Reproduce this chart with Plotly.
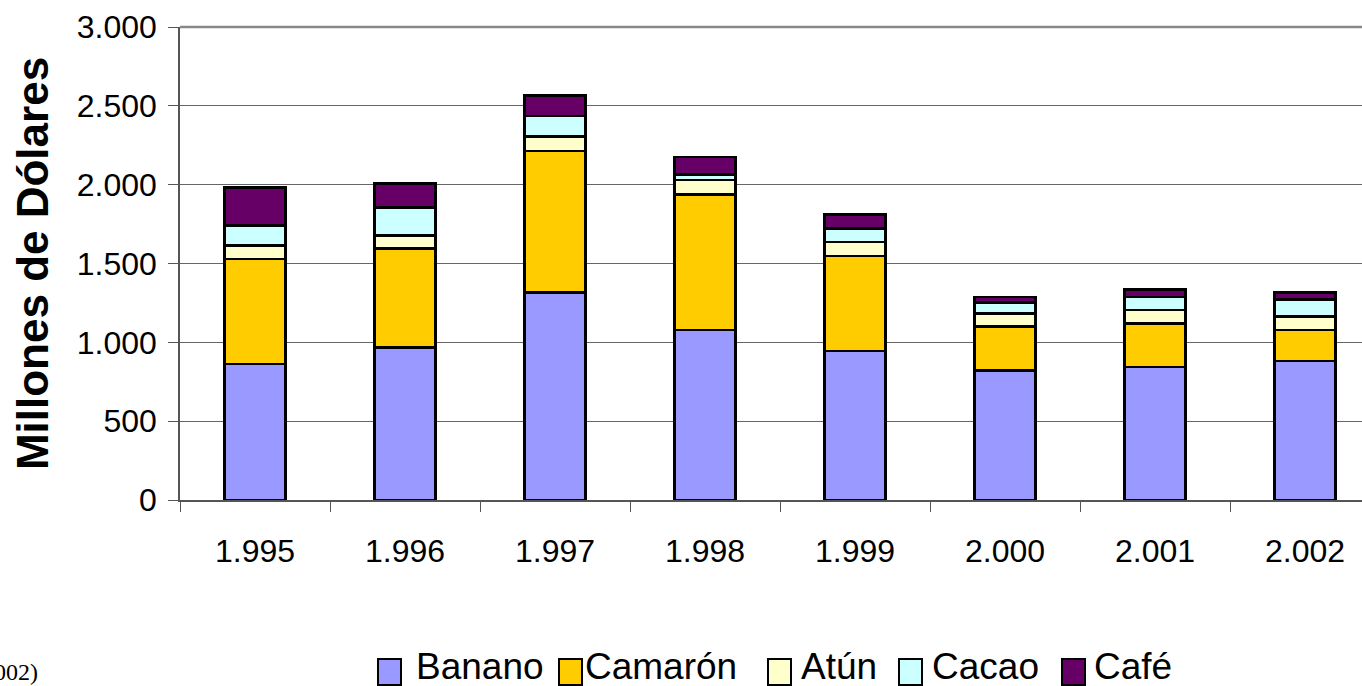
import plotly.graph_objects as go

# Exportaciones por producto, millones de dólares
years = ["1.995", "1.996", "1.997", "1.998", "1.999", "2.000", "2.001", "2.002"]
banano = [863, 968, 1317, 1078, 945, 820, 842, 882]
camaron = [664, 626, 898, 861, 604, 279, 279, 196]
atun = [86, 85, 89, 91, 87, 85, 84, 85]
cacao = [127, 175, 130, 36, 85, 70, 84, 110]
cafe = [243, 152, 133, 111, 89, 35, 47, 42]

names = ["Banano", "Camarón", "Atún", "Cacao", "Café"]
values = [banano, camaron, atun, cacao, cafe]
colors = ["#9999FF", "#FFCC00", "#FFFFCC", "#CCFFFF", "#660066"]

FONT = "Liberation Sans, Arial, sans-serif"

# plot area in pixels
L, T, W, H = 180, 27, 1182, 473


def px(x):
    return (x - L) / W


def py(y):
    return (T + H - y) / H


fig = go.Figure()
for name, vals, color in zip(names, values, colors):
    fig.add_trace(go.Bar(
        x=years, y=vals, name=name,
        marker=dict(color=color, line=dict(color="black", width=2.5)),
    ))

# legend row below the chart: swatch + label per series
swatch_left = [378, 559, 768, 899, 1062]
label_left = [414, 583, 799, 930, 1092]
for name, color, x0, xt in zip(names, colors, swatch_left, label_left):
    fig.add_shape(
        type="rect", xref="paper", yref="paper",
        x0=px(x0), x1=px(x0 + 23), y0=py(685), y1=py(659),
        fillcolor=color, line=dict(color="black", width=2),
    )
    fig.add_annotation(
        text=name, xref="paper", yref="paper",
        x=px(xt), y=py(666), xanchor="left", yanchor="middle",
        showarrow=False, font=dict(family=FONT, size=37, color="black"),
    )

# top border of the plot area
fig.add_shape(type="line", xref="paper", yref="paper", x0=0, x1=1, y0=1, y1=1,
              line=dict(color="#888888", width=2.5))

fig.add_annotation(
    text="(1995-2002)", xref="paper", yref="paper",
    x=px(40), y=py(672), xanchor="right", yanchor="middle", showarrow=False,
    font=dict(family="Liberation Serif, Times New Roman, serif", size=24, color="black"),
)

fig.update_layout(
    width=1362, height=686,
    margin=dict(l=L, r=1362 - L - W, t=T, b=686 - T - H, autoexpand=False),
    paper_bgcolor="white", plot_bgcolor="white",
    barmode="stack", bargap=0.593,
    separators=",.",
    font=dict(family=FONT, size=32, color="black"),
    showlegend=False,
    xaxis=dict(
        type="category", range=[-0.5, 7.38],
        showline=True, linecolor="#555555", linewidth=1.5,
        ticks="outside", tickson="boundaries", ticklen=10, tickcolor="#555555",
        ticklabelstandoff=22,
        tickfont=dict(family=FONT, size=32, color="black"),
        showgrid=False,
    ),
    yaxis=dict(
        range=[0, 3000], dtick=500, tickformat=",d",
        showline=True, linecolor="#555555", linewidth=1.5,
        ticks="outside", ticklen=10, tickcolor="#555555",
        ticklabelstandoff=5,
        tickfont=dict(family=FONT, size=32, color="black"),
        showgrid=True, gridcolor="#666666", gridwidth=1,
        zeroline=False,
        title=dict(text="<b>Millones de Dólares</b>", standoff=14,
                   font=dict(family=FONT, size=44, color="black")),
    ),
)

fig.write_html("out.html")
